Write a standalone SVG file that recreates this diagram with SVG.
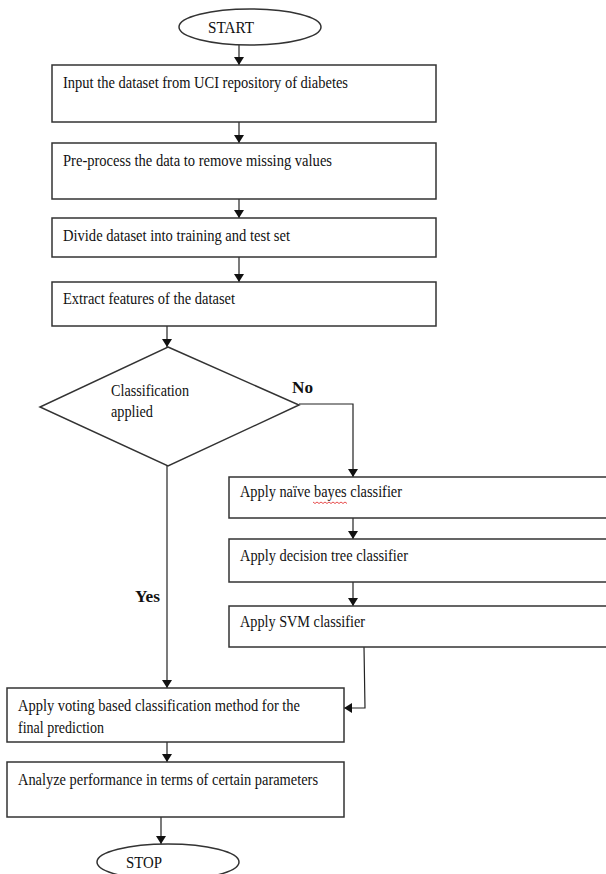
<svg xmlns="http://www.w3.org/2000/svg" width="606" height="874" viewBox="0 0 606 874">
<style>
.box{fill:#fff;stroke:#333;stroke-width:1.5}
.t{font-family:"Liberation Serif","Times New Roman",serif;font-size:16px;fill:#111}
.b{font-weight:bold}
.c{fill:none;stroke:#222;stroke-width:1.2}
</style>
<defs>
<marker id="ah" markerWidth="8" markerHeight="10" refX="8" refY="5" orient="auto" markerUnits="userSpaceOnUse">
<path d="M0,0 L8,5 L0,10 z" fill="#111"/>
</marker>
</defs>
<rect width="606" height="874" fill="#fff"/>
<g id="connectors">
<line class="c" x1="239" y1="45" x2="239" y2="65" marker-end="url(#ah)"/>
<line class="c" x1="239" y1="122" x2="239" y2="143" marker-end="url(#ah)"/>
<line class="c" x1="239" y1="199" x2="239" y2="218" marker-end="url(#ah)"/>
<line class="c" x1="239" y1="257" x2="239" y2="282" marker-end="url(#ah)"/>
<line class="c" x1="167" y1="326" x2="167" y2="347" marker-end="url(#ah)"/>
<polyline class="c" points="299,404 353,404 353,477" marker-end="url(#ah)"/>
<line class="c" x1="353" y1="518" x2="353" y2="539" marker-end="url(#ah)"/>
<line class="c" x1="353" y1="582" x2="353" y2="606" marker-end="url(#ah)"/>
<polyline class="c" points="364,647 365,708 344,708" marker-end="url(#ah)"/>
<line class="c" x1="167" y1="466" x2="167" y2="688" marker-end="url(#ah)"/>
<line class="c" x1="167" y1="742" x2="167" y2="762" marker-end="url(#ah)"/>
<line class="c" x1="161" y1="817" x2="161" y2="844" marker-end="url(#ah)"/>
<text class="t b" x="292" y="393" textLength="21" lengthAdjust="spacingAndGlyphs">No</text>
<text class="t b" x="135" y="602" textLength="25" lengthAdjust="spacingAndGlyphs">Yes</text>
</g>
<g id="start">
<ellipse class="box" cx="250" cy="27" rx="71" ry="18"/>
<text class="t" x="208" y="33" textLength="46" lengthAdjust="spacingAndGlyphs">START</text>
</g>
<g id="input">
<rect class="box" x="52" y="65" width="384" height="57"/>
<text class="t" x="63" y="88" textLength="285" lengthAdjust="spacingAndGlyphs">Input the dataset from UCI repository of diabetes</text>
</g>
<g id="preprocess">
<rect class="box" x="52" y="143" width="384" height="56"/>
<text class="t" x="63" y="166" textLength="269" lengthAdjust="spacingAndGlyphs">Pre-process the data to remove missing values</text>
</g>
<g id="divide">
<rect class="box" x="52" y="218" width="384" height="39"/>
<text class="t" x="63" y="241" textLength="227" lengthAdjust="spacingAndGlyphs">Divide dataset into training and test set</text>
</g>
<g id="extract">
<rect class="box" x="52" y="282" width="384" height="44"/>
<text class="t" x="63" y="304" textLength="172" lengthAdjust="spacingAndGlyphs">Extract features of the dataset</text>
</g>
<g id="decision">
<polygon class="box" points="168,347 299,405 168,466 40,407"/>
<text class="t" x="111" y="396" textLength="78" lengthAdjust="spacingAndGlyphs">Classification</text>
<text class="t" x="111" y="417" textLength="42" lengthAdjust="spacingAndGlyphs">applied</text>
</g>
<g id="naivebayes">
<rect class="box" x="229" y="477" width="385" height="41"/>
<text class="t" x="240" y="497" textLength="162" lengthAdjust="spacingAndGlyphs">Apply naïve bayes classifier</text>
<path d="M313,502 l2,1.5 l2,-1.5 l2,1.5 l2,-1.5 l2,1.5 l2,-1.5 l2,1.5 l2,-1.5 l2,1.5 l2,-1.5 l2,1.5 l2,-1.5 l2,1.5 l2,-1.5 l2,1.5 l2,-1.5 l2,1.5" fill="none" stroke="#e02020" stroke-width="0.8"/>
</g>
<g id="dtree">
<rect class="box" x="229" y="539" width="385" height="43"/>
<text class="t" x="240" y="561" textLength="168" lengthAdjust="spacingAndGlyphs">Apply decision tree classifier</text>
</g>
<g id="svm">
<rect class="box" x="229" y="606" width="385" height="41"/>
<text class="t" x="240" y="627" textLength="125" lengthAdjust="spacingAndGlyphs">Apply SVM classifier</text>
</g>
<g id="voting">
<rect class="box" x="7" y="688" width="337" height="54"/>
<text class="t" x="18" y="711" textLength="282" lengthAdjust="spacingAndGlyphs">Apply voting based classification method for the</text>
<text class="t" x="18" y="733" textLength="86" lengthAdjust="spacingAndGlyphs">final prediction</text>
</g>
<g id="analyze">
<rect class="box" x="7" y="762" width="337" height="55"/>
<text class="t" x="18" y="785" textLength="300" lengthAdjust="spacingAndGlyphs">Analyze performance in terms of certain parameters</text>
</g>
<g id="stop">
<ellipse class="box" cx="168" cy="862" rx="71" ry="18"/>
<text class="t" x="126" y="868" textLength="36" lengthAdjust="spacingAndGlyphs">STOP</text>
</g>
</svg>
